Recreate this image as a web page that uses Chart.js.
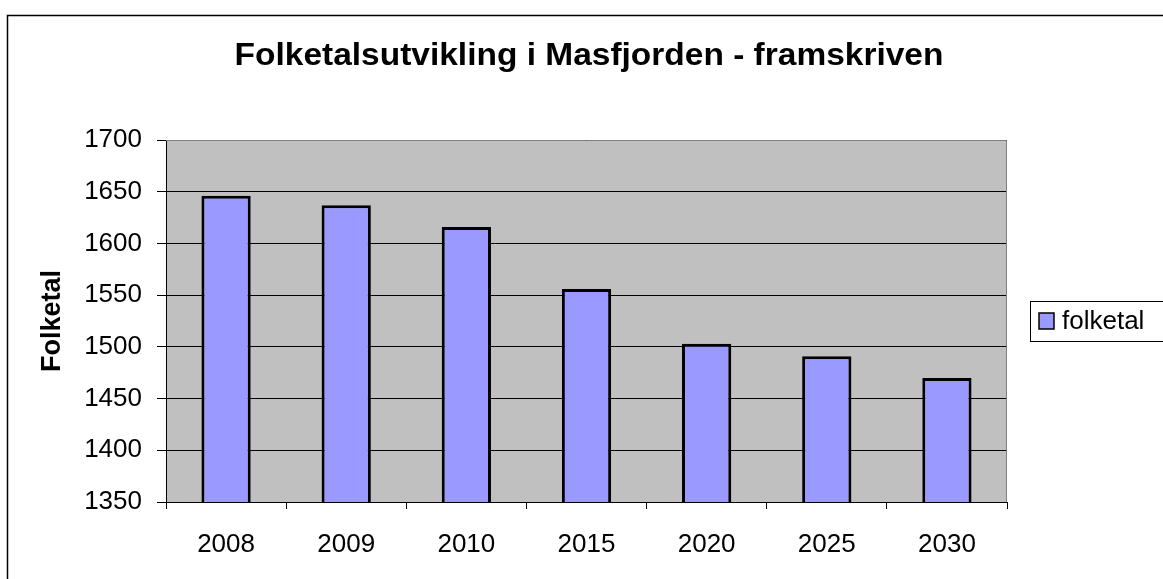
<!DOCTYPE html>
<html>
<head>
<meta charset="utf-8">
<script src="https://cdn.jsdelivr.net/npm/chart.js@4.4.0/dist/chart.umd.min.js"></script>
<style>
  html, body { margin: 0; padding: 0; background: #fff; }
  #wrap { width: 1163px; height: 579px; }
</style>
</head>
<body>
<div id="wrap"><canvas id="graf"></canvas></div>
<script>
// --- DATA ---
const aar = ['2008', '2009', '2010', '2015', '2020', '2025', '2030'];
const folketal = [1646, 1637, 1616, 1556, 1503, 1491, 1470];
const tittel = 'Folketalsutvikling i Masfjorden - framskriven';
const serieNamn = 'folketal';

const FONT = 'Arial, "Liberation Sans", sans-serif';

// ramme, grå bakgrunn i plottet, tittel og forklaring
const pynt = {
    id: 'pynt',
    beforeDraw(chart) {
        const { ctx, chartArea: a } = chart;
        ctx.save();
        ctx.fillStyle = '#c0c0c0';
        ctx.fillRect(a.left, a.top, a.right - a.left, a.bottom - a.top);
        ctx.restore();
    },
    afterDraw(chart) {
        const { ctx, chartArea: a } = chart;
        ctx.save();
        // grå kant oppe og til høgre
        ctx.strokeStyle = '#808080';
        ctx.lineWidth = 1;
        ctx.beginPath();
        ctx.moveTo(a.left, a.top + 0.5);
        ctx.lineTo(a.right - 0.5, a.top + 0.5);
        ctx.lineTo(a.right - 0.5, a.bottom);
        ctx.stroke();
        // ytre ramme
        ctx.strokeStyle = '#000';
        ctx.lineWidth = 1.5;
        ctx.strokeRect(7.5, 15.5, 1163, 600);
        // tittel
        ctx.fillStyle = '#000';
        ctx.font = 'bold 31px ' + FONT;
        ctx.textAlign = 'center';
        ctx.textBaseline = 'alphabetic';
        ctx.save();
        ctx.translate(589, 65);
        ctx.scale(1.08, 1);
        ctx.fillText(tittel, 0, 0);
        ctx.restore();
        // forklaring
        const ds = chart.data.datasets[0];
        ctx.fillStyle = '#fff';
        ctx.fillRect(1030, 301, 133, 40);
        ctx.strokeStyle = '#000';
        ctx.lineWidth = 1;
        ctx.strokeRect(1030.5, 301.5, 140, 40);
        ctx.fillStyle = ds.backgroundColor;
        ctx.fillRect(1039, 313, 15, 16);
        ctx.lineWidth = 1.5;
        ctx.strokeRect(1039, 313, 15, 16);
        ctx.fillStyle = '#000';
        ctx.font = '26px ' + FONT;
        ctx.textAlign = 'left';
        ctx.fillText(ds.label, 1062, 329);
        ctx.restore();
    }
};

new Chart(document.getElementById('graf'), {
    type: 'bar',
    data: {
        labels: aar,
        datasets: [{
            label: serieNamn,
            data: folketal,
            backgroundColor: '#9999ff',
            borderColor: '#000',
            borderWidth: 3,
            barPercentage: 0.41,
            categoryPercentage: 1
        }]
    },
    options: {
        responsive: true,
        maintainAspectRatio: false,
        animation: false,
        layout: { padding: { left: 30, right: 156, top: 140, bottom: 0 } },
        plugins: {
            legend: { display: false },
            title: { display: false },
            tooltip: { enabled: false }
        },
        scales: {
            x: {
                afterFit(scale) { scale.height = 77; },
                grid: {
                    offset: true,
                    drawOnChartArea: false,
                    drawTicks: true,
                    tickLength: 7,
                    color: '#000'
                },
                border: { color: '#000', width: 1 },
                ticks: {
                    color: '#000',
                    font: { family: FONT, size: 26 },
                    padding: 20
                }
            },
            y: {
                min: 1350,
                max: 1700,
                afterFit(scale) { scale.width = 136; },
                ticks: {
                    stepSize: 50,
                    color: '#000',
                    font: { family: FONT, size: 26 },
                    padding: 15,
                    callback: (v) => String(v)
                },
                grid: {
                    color: '#000',
                    lineWidth: 1,
                    tickLength: 9
                },
                border: { color: '#000', width: 1 },
                title: {
                    display: true,
                    text: 'Folketal',
                    color: '#000',
                    font: { family: FONT, size: 27, weight: 'bold' },
                    padding: { top: 6, bottom: 0 }
                }
            }
        }
    },
    plugins: [pynt]
});
</script>
</body>
</html>
